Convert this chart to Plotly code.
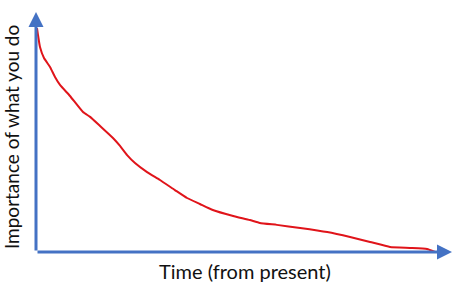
import plotly.graph_objects as go

time = [0.24, 0.48, 0.96, 1.92, 3.37, 4.57, 5.77, 8.17, 11.3, 13.0, 15.4, 18.5, 20.2, 21.9,
        23.8, 26.7, 29.8, 33.4, 36.3, 39.4, 42.5, 47.4, 51.4, 53.8, 57.9, 63.5, 70.0, 75.5,
        80.3, 85.1, 89.9, 94.0, 95.9]
importance = [93.3, 90.4, 85.4, 80.8, 77.1, 72.9, 69.6, 65.0, 58.3, 56.3, 52.5, 47.5, 44.2, 40.4,
              37.1, 33.3, 30.0, 25.8, 22.5, 20.0, 17.5, 15.0, 13.3, 12.1, 11.3, 10.0, 8.3, 6.25,
              4.2, 2.1, 1.7, 1.25, 0.0]

x_title = "Time (from present)"
y_title = "Importance of what you do"

axis_color = "#4472C4"
font_family = "Lato, 'Open Sans', sans-serif"

fig = go.Figure()
fig.add_trace(go.Scatter(x=time, y=importance, mode="lines",
                         line=dict(color="#E0141A", width=2, shape="spline", smoothing=0.4),
                         hoverinfo="skip", showlegend=False))

arrow = dict(showarrow=True, text="", arrowhead=2, arrowwidth=3, arrowsize=1,
             arrowcolor=axis_color, xref="x", yref="y", axref="x", ayref="y", standoff=0,
             startstandoff=0)
fig.add_annotation(x=100, y=0, ax=0, ay=0, **arrow)
fig.add_annotation(x=0, y=100, ax=0, ay=0, **arrow)

fig.add_annotation(text=x_title, xref="paper", yref="paper", x=0.502, y=-0.08,
                   xanchor="center", yanchor="middle", showarrow=False,
                   font=dict(family=font_family, size=20, color="#111111"))
fig.add_annotation(text=y_title, xref="paper", yref="paper", x=-0.057, y=0.48,
                   xanchor="center", yanchor="middle", showarrow=False, textangle=-90,
                   font=dict(family=font_family, size=19, color="#111111"))

fig.update_xaxes(range=[0, 100], visible=False, fixedrange=True)
fig.update_yaxes(range=[0, 100], visible=False, fixedrange=True)
fig.update_layout(width=455, height=286, margin=dict(l=36, r=3, t=12, b=34),
                  plot_bgcolor="white", paper_bgcolor="white")

fig.write_html("out.html", config={"displayModeBar": False})
